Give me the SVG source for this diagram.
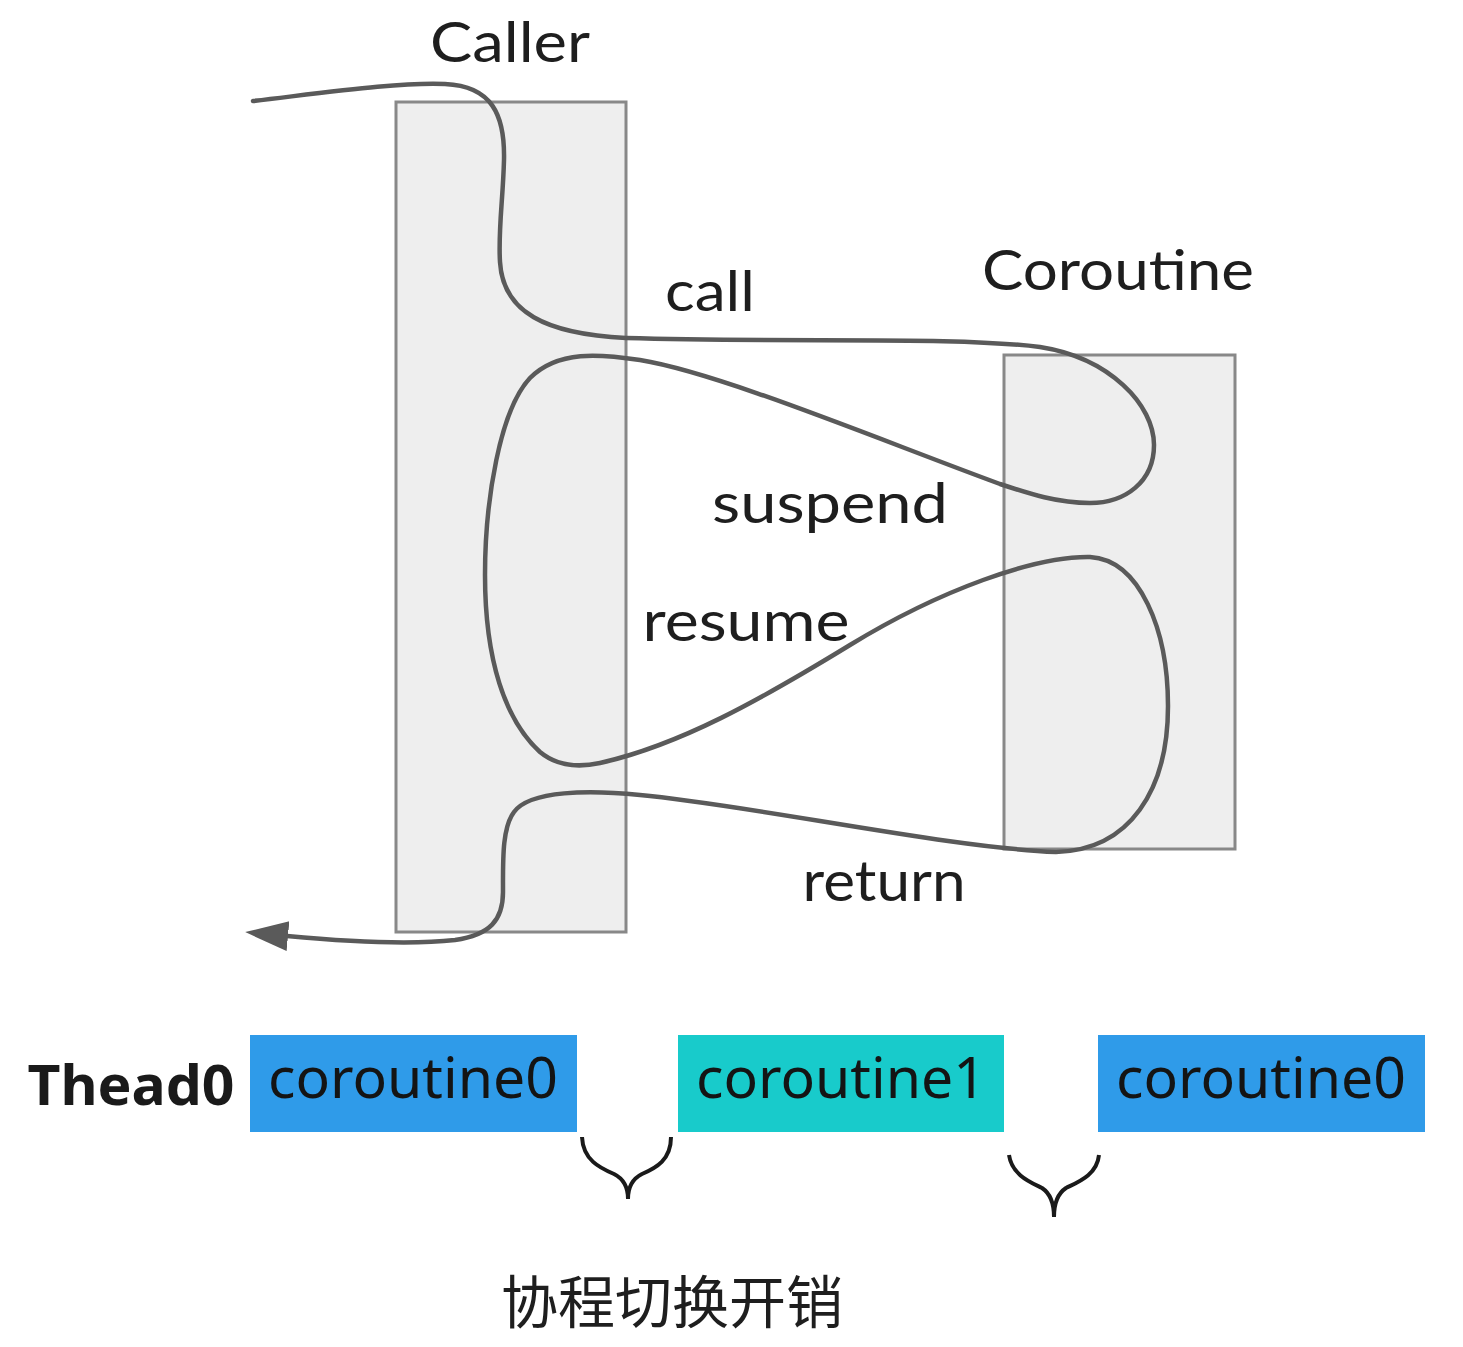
<svg xmlns="http://www.w3.org/2000/svg" width="1463" height="1347" viewBox="0 0 1463 1347">
<style>
.box{fill:#eeeeee;stroke:#888888;stroke-width:3}
.lbl{font-family:Lato,"Open Sans","Liberation Sans",sans-serif;font-size:56px;fill:#1e1e1e}
.flow{fill:none;stroke:#5a5a5a;stroke-width:4.5;stroke-linecap:round}
.seg{stroke:none}
.segtxt{font-family:"Noto Sans","Open Sans","Liberation Sans",sans-serif;font-size:56px;fill:#141414}
.brace{fill:none;stroke:#1a1a1a;stroke-width:4;stroke-linejoin:miter}
</style>
<defs>
<marker id="arr" markerUnits="userSpaceOnUse" markerWidth="46" markerHeight="34" refX="1" refY="16" orient="auto">
<path d="M0,1 L43,16 L0,31 Z" fill="#5a5a5a"/>
</marker>
</defs>
<rect width="1463" height="1347" fill="#ffffff"/>
<g id="caller">
<rect class="box" x="396" y="102" width="230" height="830"/>
<text class="lbl" x="510" y="62" text-anchor="middle" textLength="160" lengthAdjust="spacingAndGlyphs">Caller</text>
</g>
<g id="coroutine">
<rect class="box" x="1004" y="355" width="231" height="494"/>
<text class="lbl" x="1118" y="290" text-anchor="middle" textLength="272" lengthAdjust="spacingAndGlyphs">Coroutine</text>
</g>
<g id="connectors">
<path class="flow" marker-end="url(#arr)" d="M253,101 C330,92 400,82 445,84 C492,86 505,115 504,160 C503,200 498,230 500,262 C503,312 545,334 626,338 C800,343 950,336 1040,347 C1110,358 1154,405 1154,445 C1154,482 1125,503 1090,503 C1058,503 1030,494 1000,484 C880,440 720,373 640,360 C600,354 558,350 530,378 C500,410 485,500 485,575 C485,660 505,720 540,752 C557,766 577,768 600,763 C680,745 760,700 850,645 C940,590 1035,556 1090,557 C1140,560 1168,630 1168,706 C1168,790 1130,850 1056,852 C950,848 750,805 640,795 C590,790 530,790 514,812 C502,828 503,860 503,892 C503,920 490,935 455,940 C400,946 330,940 287,936"/>
<text class="lbl" x="710" y="311" text-anchor="middle" textLength="90" lengthAdjust="spacingAndGlyphs">call</text>
<text class="lbl" x="830" y="523" text-anchor="middle" textLength="236" lengthAdjust="spacingAndGlyphs">suspend</text>
<text class="lbl" x="746" y="641" text-anchor="middle" textLength="207" lengthAdjust="spacingAndGlyphs">resume</text>
<text class="lbl" x="884" y="901" text-anchor="middle" textLength="163" lengthAdjust="spacingAndGlyphs">return</text>
</g>
<g id="thread">
<text x="131" y="1105" text-anchor="middle" font-family="'Noto Sans','Open Sans','Liberation Sans',sans-serif" font-size="56" font-weight="bold" fill="#1a1a1a" textLength="207" lengthAdjust="spacingAndGlyphs">Thead0</text>
</g>
<g id="seg1">
<rect class="seg" x="250" y="1035" width="327" height="97" fill="#2f9be9"/>
<text class="segtxt" x="413" y="1098" text-anchor="middle" textLength="290" lengthAdjust="spacingAndGlyphs">coroutine0</text>
</g>
<g id="seg2">
<rect class="seg" x="678" y="1035" width="326" height="97" fill="#18cbcb"/>
<text class="segtxt" x="841" y="1098" text-anchor="middle" textLength="290" lengthAdjust="spacingAndGlyphs">coroutine1</text>
</g>
<g id="seg3">
<rect class="seg" x="1098" y="1035" width="327" height="97" fill="#2f9be9"/>
<text class="segtxt" x="1261" y="1098" text-anchor="middle" textLength="290" lengthAdjust="spacingAndGlyphs">coroutine0</text>
</g>
<g id="brace1">
<path class="brace" d="M582,1137 C583,1160 600,1168 614,1174 C624,1179 628,1188 628,1199 C628,1188 632,1179 642,1174 C656,1168 671,1160 671,1137"/>
</g>
<g id="brace2">
<path class="brace" d="M1009,1155 C1012,1175 1030,1182 1042,1188 C1051,1194 1054,1205 1054,1217 C1054,1205 1057,1194 1066,1188 C1078,1182 1097,1175 1099,1155"/>
</g>
<g id="caption">
<text x="672" y="1323" text-anchor="middle" font-family="'Noto Sans CJK SC','Noto Sans',sans-serif" font-size="57" fill="#1e1e1e">协程切换开销</text>
</g>
</svg>
